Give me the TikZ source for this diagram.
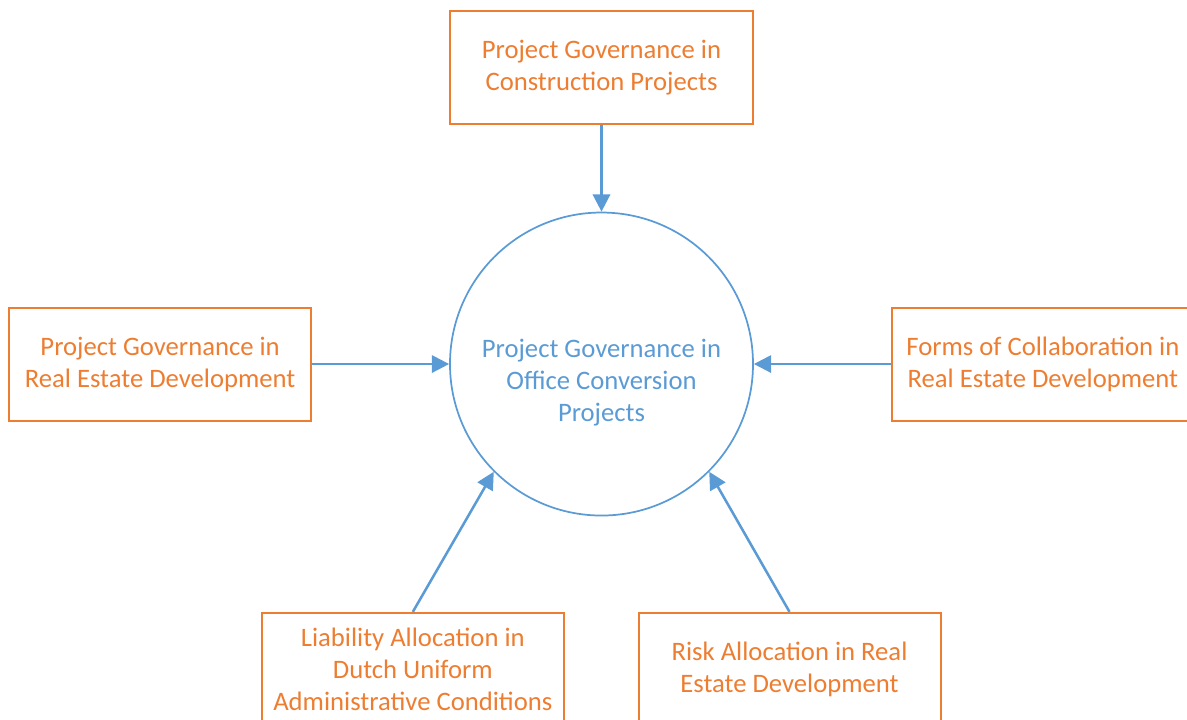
\documentclass[tikz,border=0pt]{standalone}
\usepackage{fontspec}
\setmainfont{Carlito}
\usetikzlibrary{arrows.meta, positioning}
\definecolor{boxorange}{RGB}{237,125,49}
\definecolor{linkblue}{RGB}{91,155,213}

\begin{document}
\begin{tikzpicture}[
  node distance=66pt and 103pt,
  every node/.style={font=\fontsize{20}{24}\selectfont},
  topic/.style={rectangle, draw=boxorange, line width=1.5pt, text=boxorange,
                minimum width=226.5pt, minimum height=84.75pt, align=center,
                inner sep=0pt},
  core/.style={circle, draw=linkblue, line width=1.3pt, minimum size=227.25pt,
               inner sep=0pt},
  arr/.style={-{Triangle[length=13pt, width=13pt]}, draw=linkblue,
              line width=1.9pt},
]
\useasboundingbox (-451.1pt,273pt) rectangle (439.1pt,-266.25pt);

\node[core] (conv) at (0,0) {};
\node[text=linkblue, align=center] (convtxt) at ([yshift=-14pt]conv.center)
  {Project Governance in\\Office Conversion\\Projects};

\node[topic, above=65pt of conv] (constr) {Project Governance in\\Construction Projects};
\node[topic, left=102.75pt of conv]  (redev)  {Project Governance in\\Real Estate Development};
\node[topic, right=102.75pt of conv] (collab) {Forms of Collaboration in\\Real Estate Development};

% the two boxes underneath
\node[topic, below=71.6pt of conv, xshift=-141.5pt] (liab)
  {Liability Allocation in\\Dutch Uniform\\Administrative Conditions};
\node[topic, below=71.6pt of conv, xshift=141pt] (risk)
  {Risk Allocation in Real\\Estate Development};

\draw[arr] (constr) -- (conv);
\draw[arr] (redev)  -- (conv);
\draw[arr] (collab) -- (conv);
\draw[arr] (liab.north) -- (conv.225);
\draw[arr] (risk.north) -- (conv.-45);
\end{tikzpicture}
\end{document}
